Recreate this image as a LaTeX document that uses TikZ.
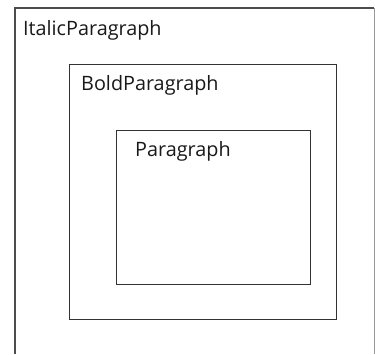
\documentclass[tikz,border=0pt]{standalone}
\usepackage{fontspec}
\setmainfont{Open Sans}
\begin{document}
\begin{tikzpicture}[x=1pt,y=-1pt,
  lbl/.style={anchor=base west,inner sep=0pt,font=\fontsize{19.8}{23}\selectfont,text=black!90},
  boxnode/.style={draw=black!80,line width=1.3pt,inner sep=0pt,anchor=north west}]
\useasboundingbox (0,0) rectangle (375,354);
\draw[black!70,line width=2pt] (15,354) -- (15,8) -- (374,8);
\draw[black!40,line width=1pt] (374,8) -- (374,354);
\node[boxnode,minimum width=267pt,minimum height=255pt] (bold) at (69,64) {};
\node[boxnode,minimum width=194pt,minimum height=154pt] (para) at (116,130) {};
\node[lbl] (t1) at (23,35) {ItalicParagraph};
\node[lbl] (t2) at (81,90) {BoldParagraph};
\node[lbl] (t3) at (135,156) {Paragraph};
\end{tikzpicture}
\end{document}
